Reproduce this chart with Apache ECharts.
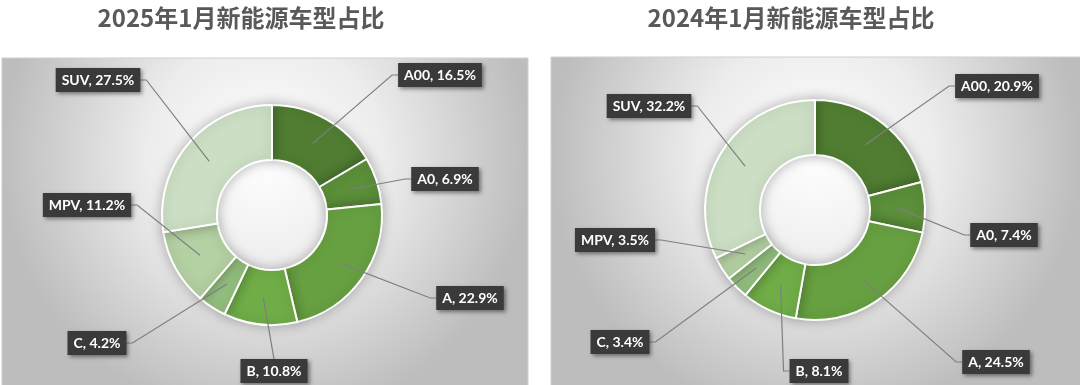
<!DOCTYPE html>
<html>
<head>
<meta charset="utf-8">
<script src="https://cdn.jsdelivr.net/npm/echarts@6/dist/echarts.min.js"></script>
<style>html,body{margin:0;padding:0;background:#fff;}#c{width:1080px;height:385px;}</style>
</head>
<body>
<div id="c"></div>
<script>
// ---- data ----
var categories = ['A00', 'A0', 'A', 'B', 'C', 'MPV', 'SUV'];
var values2025 = [16.5, 6.9, 22.9, 10.8, 4.2, 11.2, 27.5];
var values2024 = [20.9, 7.4, 24.5, 8.1, 3.4, 3.5, 32.2];
var title2025 = '2025年1月新能源车型占比';
var title2024 = '2024年1月新能源车型占比';

// ---- layout / style (not data) ----
var colors = ['#507D32', '#5B8F39', '#67A041', '#70AD47', '#93BF7E', '#B4D1A3', '#CCDFC4'];
var centers = [[272, 215], [815, 210]];
var radii = [55, 110];
// label box centers and which side the leader line attaches to
var labelPos = [
  [[440, 75, 'L'], [445, 179, 'L'], [470, 298, 'L'], [274, 371, 'T'], [97, 343, 'R'], [87, 205, 'R'], [98, 80, 'R']],
  [[997, 86, 'L'], [1004, 235, 'L'], [996, 362, 'L'], [819, 371, 'L'], [620, 342, 'R'], [615, 240, 'R'], [649, 106, 'R']]
];

function toData(vals, transparent) {
  return categories.map(function (c, i) {
    return { name: c, value: vals[i], itemStyle: { color: transparent ? 'rgba(0,0,0,0)' : colors[i] } };
  });
}

function baseSeries(idx, vals) {
  return {
    type: 'pie',
    z: 2,
    center: centers[idx],
    radius: radii,
    startAngle: 90,
    clockwise: true,
    animation: false,
    silent: true,
    data: toData(vals, false),
    itemStyle: { borderColor: '#ffffff', borderWidth: 2, shadowBlur: 12, shadowColor: 'rgba(0,0,0,0.25)' },
    emphasis: { disabled: true },
    label: { show: false },
    labelLine: { show: false }
  };
}

function labelSeries(idx, vals) {
  return {
    type: 'pie',
    z: 5,
    center: centers[idx],
    radius: radii,
    startAngle: 90,
    clockwise: true,
    avoidLabelOverlap: false,
    animation: false,
    silent: true,
    data: toData(vals, true),
    itemStyle: { borderWidth: 0 },
    emphasis: { disabled: true },
    label: {
      show: true,
      position: 'outside',
      formatter: function (p) { return p.name + ', ' + p.value.toFixed(1) + '%'; },
      color: '#ffffff',
      fontFamily: 'Lato',
      fontWeight: 'bold',
      fontSize: 14,
      lineHeight: 15,
      backgroundColor: '#3a3a3a',
      padding: [5, 6, 4, 6],
      shadowBlur: 4,
      shadowColor: 'rgba(0,0,0,0.45)',
      shadowOffsetX: 2,
      shadowOffsetY: 2
    },
    labelLine: { show: true, length: 10, length2: 10, lineStyle: { color: '#7f7f7f', width: 1.2 } },
    labelLayout: function (params) {
      var pos = labelPos[idx][params.dataIndex];
      var c = centers[idx];
      var pts = params.labelLinePoints;
      var p0 = pts && pts[0] ? pts[0] : c;
      var k = (radii[0] + radii[1]) / 2 / radii[1];
      var anchor = [c[0] + (p0[0] - c[0]) * k, c[1] + (p0[1] - c[1]) * k];
      var w = params.labelRect.width, h = params.labelRect.height;
      var p1, p2;
      if (pos[2] === 'L') {
        p2 = [pos[0] - w / 2, pos[1]];
        p1 = [p2[0] - 6, pos[1]];
      } else if (pos[2] === 'R') {
        p2 = [pos[0] + w / 2, pos[1]];
        p1 = [p2[0] + 6, pos[1]];
      } else {
        p2 = [pos[0], pos[1] - h / 2];
        p1 = [pos[0], pos[1] - h / 2];
      }
      return {
        x: pos[0], y: pos[1], align: 'center', verticalAlign: 'middle',
        labelLinePoints: [anchor, p1, p2]
      };
    }
  };
}

function panelFill() {
  return new echarts.graphic.RadialGradient(0.5, 0.3, 0.8, [
    { offset: 0, color: '#ffffff' },
    { offset: 0.45, color: '#ececec' },
    { offset: 1, color: '#bdbdbd' }
  ]);
}

var chart = echarts.init(document.getElementById('c'), null, { renderer: 'canvas' });
chart.setOption({
  animation: false,
  graphic: [
    { type: 'rect', z: -10, shape: { x: 2, y: 58, width: 526, height: 330 }, style: { fill: panelFill(), stroke: '#cfcfcf', lineWidth: 1 } },
    { type: 'rect', z: -10, shape: { x: 551, y: 57, width: 530, height: 330 }, style: { fill: panelFill(), stroke: '#cfcfcf', lineWidth: 1 } },
    { type: 'text', z: 10, style: { text: title2025, x: 241, y: 18, textAlign: 'center', textVerticalAlign: 'middle', fill: '#595959', font: 'bold 24px "Noto Sans CJK SC"' } },
    { type: 'text', z: 10, style: { text: title2024, x: 791, y: 18, textAlign: 'center', textVerticalAlign: 'middle', fill: '#595959', font: 'bold 24px "Noto Sans CJK SC"' } }
  ],
  series: [baseSeries(0, values2025), baseSeries(1, values2024), labelSeries(0, values2025), labelSeries(1, values2024)]
});
</script>
</body>
</html>
